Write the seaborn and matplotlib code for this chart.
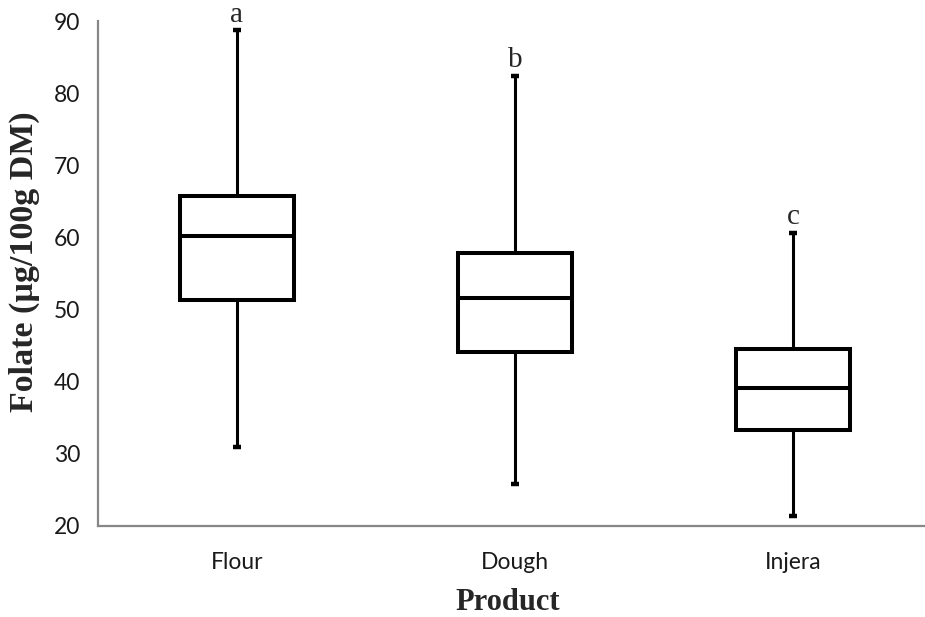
import numpy as np
import pandas as pd
import seaborn as sns
import matplotlib.pyplot as plt

products = ["Flour", "Dough", "Injera"]
# five-number summaries: min, Q1, median, Q3, max
flour = [31.0, 51.3, 60.2, 65.8, 88.7]
dough = [25.8, 44.1, 51.6, 57.8, 82.4]
injera = [21.4, 33.3, 39.1, 44.5, 60.6]
letters = ["a", "b", "c"]
yticks = [20, 30, 40, 50, 60, 70, 80, 90]

df = pd.DataFrame({
    "Product": np.repeat(products, 5),
    "Folate": flour + dough + injera,
})

sns.set_style("white")
fig = plt.figure(figsize=(9.25, 6.17), dpi=100)
ax = fig.add_axes([98 / 925, 91 / 617, 834 / 925, 505 / 617])

sns.boxplot(data=df, x="Product", y="Folate", order=products,
            whis=(0, 100), width=0.41, color="white", linecolor="black",
            linewidth=2.9, fliersize=0, capwidths=0.03,
            whiskerprops={"linewidth": 2.2},
            capprops={"linewidth": 3.2, "solid_capstyle": "butt"},
            ax=ax)

ax.set_ylim(20, 90)
ax.set_xlim(-0.5, 2.5)
ax.set_yticks(yticks)

gray = "#878787"
for s in ["top", "right"]:
    ax.spines[s].set_visible(False)
for s in ["left", "bottom"]:
    ax.spines[s].set_color(gray)
    ax.spines[s].set_linewidth(1.6)

tick_font = dict(family="Lato", size=16.5)
ax.set_xticks(range(len(products)))
ax.set_xticklabels(products, fontdict=tick_font, color="#1a1a1a")
ax.set_yticklabels([str(t) for t in yticks], fontdict=tick_font, color="#1a1a1a")
ax.tick_params(axis="x", which="major", length=0, pad=19)
ax.set_xticks([-0.5, 0.5, 1.5], minor=True)
ax.tick_params(axis="x", which="minor", length=6, width=1.4, color=gray, direction="out")
ax.tick_params(axis="y", length=7, width=1.4, color=gray, direction="out", pad=6)

for i, (lab, vals) in enumerate(zip(letters, [flour, dough, injera])):
    ax.annotate(lab, (i, max(vals)), xytext=(0, 2), textcoords="offset points",
                ha="center", va="bottom", family="Liberation Serif", fontsize=21)

ax.set_xlabel("Product", family="Liberation Serif", fontweight="bold", fontsize=22)
ax.xaxis.set_label_coords(0.5 - 7 / 834, -0.122)
ax.set_ylabel("Folate (µg/100g DM)", family="Liberation Serif", fontweight="bold", fontsize=24.5)
ax.yaxis.set_label_coords(-0.0695, 0.523)

fig.savefig("out.png", dpi=100)
